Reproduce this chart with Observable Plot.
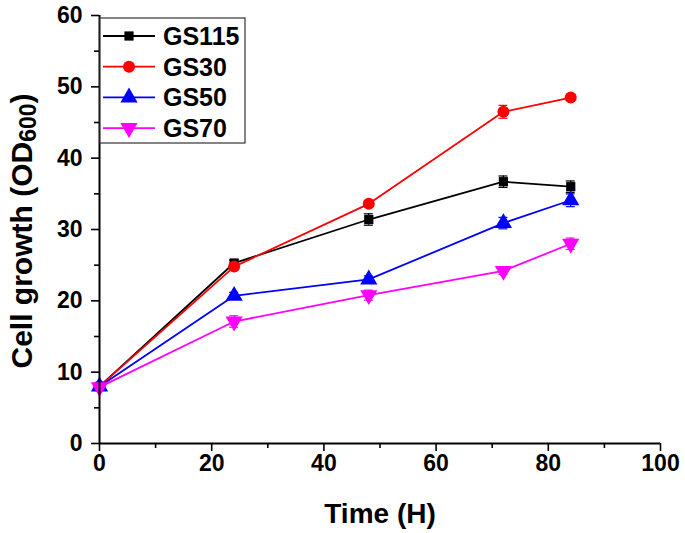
<!DOCTYPE html>
<html>
<head>
<meta charset="utf-8">
<script src="https://cdn.jsdelivr.net/npm/d3@7"></script>
<script src="https://cdn.jsdelivr.net/npm/@observablehq/plot@0.6"></script>
<style>
  html, body { margin: 0; padding: 0; background: #fff; }
  #chart { width: 685px; height: 533px; }
</style>
</head>
<body>
<div id="chart"></div>
<script>
// ---- data ----
const times = [0, 24, 48, 72, 84];
const seriesNames = ["GS115", "GS30", "GS50", "GS70"];
const seriesColors = ["#000000", "#ff0000", "#0000ff", "#ff00ff"];
const gs115 = [8.0, 25.3, 31.4, 36.7, 36.0];
const gs30  = [8.0, 24.8, 33.6, 46.5, 48.5];
const gs50  = [8.0, 20.7, 23.0, 30.9, 34.1];
const gs70  = [7.9, 17.1, 20.8, 24.2, 28.0];
const err115 = [0.3, 0.4, 0.8, 0.8, 0.8];
const err30  = [0.3, 0.5, 0.4, 0.9, 0.3];
const err50  = [0.3, 0.5, 0.5, 0.8, 0.9];
const err70  = [0.3, 0.8, 0.7, 0.5, 0.8];
const xMajorTicks = [0, 20, 40, 60, 80, 100];
const xMinorTicks = [10, 30, 50, 70, 90];
const yMajorTicks = [0, 10, 20, 30, 40, 50, 60];
const yMinorTicks = [5, 15, 25, 35, 45, 55];
const xTitle = "Time (H)";
const yTitleMain = "Cell growth (OD";
const yTitleSub = "600";
const yTitleEnd = ")";

// custom downward triangle symbol
const sqrt3 = Math.sqrt(3);
const symbolTriangleDown = {
  draw(context, size) {
    const y = -Math.sqrt(size / (sqrt3 * 3));
    context.moveTo(0, -y * 2);
    context.lineTo(-sqrt3 * y, y);
    context.lineTo(sqrt3 * y, y);
    context.closePath();
  }
};
const seriesSymbols = ["square", "circle", "triangle", symbolTriangleDown];
const seriesR = [5.2, 6.0, 6.4, 6.4];

const values = [gs115, gs30, gs50, gs70];
const errors = [err115, err30, err50, err70];
const rows = [];
seriesNames.forEach((s, i) => {
  times.forEach((t, j) => rows.push({series: s, idx: i, t, v: values[i][j], e: errors[i][j]}));
});

const FONT = "'Liberation Sans', Arial, Helvetica, sans-serif";

const marks = [
  Plot.axisX({ticks: xMajorTicks, tickSize: 8, tickPadding: 3, fontSize: 23, fontWeight: "bold", strokeWidth: 1.6, label: null}),
  Plot.axisX({ticks: xMinorTicks, tickSize: 5, tickFormat: () => "", strokeWidth: 1.6, label: null}),
  Plot.axisY({ticks: yMajorTicks, tickSize: 8, tickPadding: 9, fontSize: 23, fontWeight: "bold", strokeWidth: 1.6, label: null}),
  Plot.axisY({ticks: yMinorTicks, tickSize: 5, tickFormat: () => "", strokeWidth: 1.6, label: null}),
];
seriesNames.forEach((s, i) => {
  const d = rows.filter(r => r.idx === i);
  marks.push(
    Plot.line(d, {x: "t", y: "v", stroke: seriesColors[i], strokeWidth: 1.8}),
    Plot.ruleX(d, {x: "t", y1: r => r.v - r.e, y2: r => r.v + r.e, stroke: seriesColors[i], strokeWidth: 1.2}),
    Plot.ruleY(d, {y: r => r.v - r.e, x1: r => r.t - 0.8, x2: r => r.t + 0.8, stroke: seriesColors[i], strokeWidth: 1.2}),
    Plot.ruleY(d, {y: r => r.v + r.e, x1: r => r.t - 0.8, x2: r => r.t + 0.8, stroke: seriesColors[i], strokeWidth: 1.2}),
    Plot.dot(d, {x: "t", y: "v", symbol: () => seriesSymbols[i], r: seriesR[i], fill: seriesColors[i], stroke: "none"})
  );
});
marks.push(
  Plot.ruleY([0], {stroke: "#000", strokeWidth: 2}),
  Plot.ruleX([0], {stroke: "#000", strokeWidth: 2})
);

const svg = Plot.plot({
  width: 685,
  height: 533,
  marginLeft: 99,
  marginRight: 25,
  marginTop: 15,
  marginBottom: 90,
  style: {fontFamily: FONT, fontSize: "23px", fontWeight: "bold", background: "#fff", color: "#000", overflow: "visible"},
  x: {domain: [0, 100]},
  y: {domain: [0, 60]},
  symbol: {type: "identity"},
  marks
});

const root = d3.select(svg);

// axis titles
root.append("text")
  .attr("x", 380).attr("y", 523)
  .attr("text-anchor", "middle")
  .attr("font-family", FONT).attr("font-weight", "bold").attr("font-size", 28)
  .attr("fill", "#000")
  .text(xTitle);

const yt = root.append("text")
  .attr("transform", "translate(32,231) rotate(-90)")
  .attr("text-anchor", "middle")
  .attr("font-family", FONT).attr("font-weight", "bold").attr("font-size", 30)
  .attr("fill", "#000");
yt.append("tspan").text(yTitleMain);
yt.append("tspan").attr("font-size", 23).attr("dy", 4).text(yTitleSub);
yt.append("tspan").attr("dy", -4).text(yTitleEnd);

// legend
const lg = root.append("g");
lg.append("rect")
  .attr("x", 100).attr("y", 18).attr("width", 145).attr("height", 125)
  .attr("fill", "#fff").attr("stroke", "#333").attr("stroke-width", 1.2);
seriesNames.forEach((s, i) => {
  const cy = 36 + i * 30.7;
  lg.append("line").attr("x1", 103).attr("x2", 155).attr("y1", cy).attr("y2", cy)
    .attr("stroke", seriesColors[i]).attr("stroke-width", 1.8);
  const sym = typeof seriesSymbols[i] === "string"
    ? {square: d3.symbolSquare, circle: d3.symbolCircle, triangle: d3.symbolTriangle}[seriesSymbols[i]]
    : seriesSymbols[i];
  lg.append("path")
    .attr("d", d3.symbol(sym, Math.PI * seriesR[i] * seriesR[i])())
    .attr("transform", `translate(129,${cy})`)
    .attr("fill", seriesColors[i]);
  lg.append("text")
    .attr("x", 163).attr("y", cy).attr("dy", "0.36em")
    .attr("text-anchor", "start")
    .attr("font-family", FONT).attr("font-weight", "bold").attr("font-size", 25)
    .attr("fill", "#000")
    .text(s);
});

document.getElementById("chart").appendChild(svg);
</script>
</body>
</html>
